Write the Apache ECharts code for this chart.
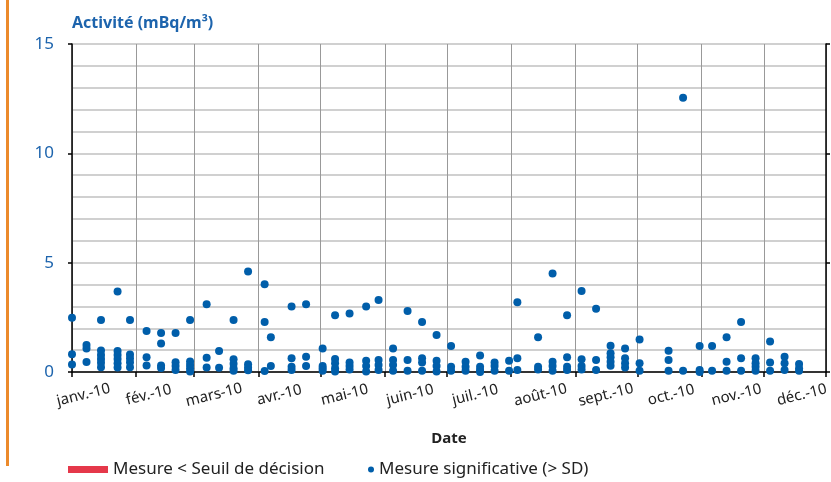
<!DOCTYPE html>
<html>
<head>
<meta charset="UTF-8">
<title>Activité (mBq/m3) 2010</title>
<script src="https://cdn.jsdelivr.net/npm/echarts@6/dist/echarts.min.js"></script>
<style>
  html, body { margin: 0; padding: 0; background: #fff; }
  #chart { width: 831px; height: 482px; }
</style>
</head>
<body>
<div id="chart"></div>
<script>
// dates of the weekly samples
var dates = [
  '2010-01-01', '2010-01-08', '2010-01-15', '2010-01-23', '2010-01-29',
  '2010-02-06', '2010-02-13', '2010-02-20', '2010-02-27', '2010-03-07',
  '2010-03-13', '2010-03-20', '2010-03-27', '2010-04-04', '2010-04-07',
  '2010-04-17', '2010-04-24', '2010-05-02', '2010-05-08', '2010-05-15',
  '2010-05-23', '2010-05-29', '2010-06-05', '2010-06-12', '2010-06-19',
  '2010-06-26', '2010-07-03', '2010-07-10', '2010-07-17', '2010-07-24',
  '2010-07-31', '2010-08-04', '2010-08-14', '2010-08-21', '2010-08-28',
  '2010-09-04', '2010-09-11', '2010-09-18', '2010-09-25', '2010-10-02',
  '2010-10-16', '2010-10-23', '2010-10-31', '2010-11-06', '2010-11-13',
  '2010-11-20', '2010-11-27', '2010-12-04', '2010-12-11', '2010-12-18'
];
// measured values for each date (mBq/m3)
var values = [
  [2.48, 0.81, 0.34], [1.23, 1.08, 0.46], [2.38, 0.98, 0.78, 0.6, 0.42, 0.22],
  [3.68, 0.96, 0.78, 0.59, 0.4, 0.21], [2.38, 0.8, 0.63, 0.45, 0.22],
  [1.88, 0.68, 0.3], [1.78, 1.3, 0.3, 0.18], [1.78, 0.45, 0.27, 0.09],
  [2.38, 0.48, 0.32, 0.17, 0.02], [3.1, 0.65, 0.21],
  [0.96, 0.2], [2.38, 0.58, 0.38, 0.17, 0.06], [4.6, 0.36, 0.21, 0.08],
  [4.01, 2.29, 0.05], [1.59, 0.27],
  [2.99, 0.63, 0.24, 0.09], [3.1, 0.7, 0.27], [1.08, 0.27, 0.17, 0.06],
  [2.6, 0.6, 0.4, 0.17, 0.02], [2.68, 0.43, 0.27, 0.12],
  [2.99, 0.52, 0.27, 0.02], [3.29, 0.55, 0.32, 0.09], [1.08, 0.55, 0.32, 0.06],
  [2.79, 0.55, 0.06], [2.29, 0.63, 0.43, 0.06],
  [1.69, 0.52, 0.27, 0.02], [1.19, 0.24, 0.06], [0.47, 0.24, 0.06],
  [0.75, 0.24, 0.09, 0], [0.43, 0.27, 0.06],
  [0.52, 0.06], [3.19, 0.63, 0.09], [1.59, 0.24, 0.12],
  [4.51, 0.47, 0.27, 0.06], [2.6, 0.67, 0.24, 0.09],
  [3.7, 0.58, 0.27, 0.12], [2.89, 0.55, 0.09], [1.2, 0.86, 0.67, 0.47, 0.29],
  [1.08, 0.63, 0.4, 0.21], [1.49, 0.4, 0.06],
  [0.97, 0.55, 0.06], [12.54, 0.06], [1.19, 0.09, 0],
  [1.19, 0.06], [1.59, 0.47, 0.06],
  [2.29, 0.63, 0.06], [0.63, 0.4, 0.24, 0.06], [1.39, 0.43, 0.06],
  [0.7, 0.4, 0.09], [0.37, 0.17, 0.06]
];
var belowThreshold = []; // no value under the decision threshold
var monthLabels = ['janv.-10', 'fév.-10', 'mars-10', 'avr.-10', 'mai-10', 'juin-10',
  'juil.-10', 'août-10', 'sept.-10', 'oct.-10', 'nov.-10', 'déc.-10'];

var DAY = 86400000;
function ts(s) {
  var p = s.split('-');
  return Date.UTC(+p[0], +p[1] - 1, +p[2]);
}

var points = [];
dates.forEach(function (d, i) {
  values[i].forEach(function (v) { points.push([ts(d), v]); });
});

var FONT = '"Noto Sans", "Open Sans", sans-serif';
var BLUE = '#005eaa';

var chart = echarts.init(document.getElementById('chart'), null, { renderer: 'canvas', useUTC: true });
chart.setOption({
  animation: false,
  useUTC: true,
  backgroundColor: '#fff',
  textStyle: { fontFamily: FONT },
  title: {
    text: 'Activité (mBq/m³)',
    left: 72, top: 15, padding: 0,
    textStyle: { color: '#1d64ad', fontSize: 16, fontWeight: 'bold', fontFamily: FONT }
  },
  grid: [
    { left: 72, right: 5, top: 44, bottom: 110, outerBoundsMode: 'none' },
    // full-width strip only used to place the month labels
    { left: 0, right: 0, top: 44, bottom: 110, outerBoundsMode: 'none', show: false }
  ],
  legend: [{
    data: [{ name: 'Mesure < Seuil de décision', icon: 'rect' }],
    left: 68, top: 461, padding: 0,
    itemWidth: 40, itemHeight: 7,
    textStyle: { fontSize: 17, color: '#222', fontFamily: FONT }
  }, {
    data: [{ name: 'Mesure significative (> SD)', icon: 'circle' }],
    left: 368, top: 461, padding: 0,
    itemWidth: 6, itemHeight: 6,
    textStyle: { fontSize: 17, color: '#222', fontFamily: FONT }
  }],
  xAxis: [{
    type: 'time',
    gridIndex: 0,
    position: 'bottom',
    min: Date.UTC(2010, 0, 1),
    max: Date.UTC(2010, 11, 31),
    splitNumber: 12,
    minInterval: 30 * DAY,
    maxInterval: 31 * DAY,
    name: 'Date',
    nameLocation: 'middle',
    nameGap: 59,
    nameTextStyle: { fontSize: 15, fontWeight: 'bold', color: '#222', fontFamily: FONT },
    axisLine: { show: true, lineStyle: { color: '#000', width: 1.5 } },
    axisTick: { show: true, length: 5, lineStyle: { color: '#000', width: 1.5 } },
    axisLabel: { show: false },
    splitLine: { show: true, lineStyle: { color: '#999', width: 1 } }
  }, {
    // month label slots, slightly offset from the month ticks as in the source
    type: 'value',
    gridIndex: 1,
    position: 'bottom',
    min: -1.279,
    max: 11.447,
    axisLine: { show: false },
    axisTick: { show: false },
    splitLine: { show: false },
    axisLabel: {
      show: true,
      customValues: monthLabels.map(function (_, i) { return i; }),
      formatter: function (v) { return monthLabels[Math.round(v)]; },
      rotate: 14,
      align: 'center',
      verticalAlign: 'middle',
      margin: 23,
      fontSize: 15,
      color: '#222',
      fontFamily: FONT
    }
  }],
  yAxis: [{
    type: 'value',
    gridIndex: 0,
    position: 'left',
    min: 0, max: 15, interval: 5,
    axisLine: { show: true, lineStyle: { color: '#000', width: 1.5 } },
    axisTick: { show: true, length: 4, lineStyle: { color: '#000', width: 1.5 } },
    axisLabel: { color: '#1d64ad', fontSize: 17, margin: 18, fontFamily: FONT },
    splitLine: { show: true, lineStyle: { color: '#d0d0d0', width: 2 } },
    minorTick: { show: false, splitNumber: 5 },
    minorSplitLine: { show: true, lineStyle: { color: '#d0d0d0', width: 2 } }
  }, {
    type: 'value',
    gridIndex: 0,
    position: 'right',
    min: 0, max: 15, interval: 5,
    axisLine: { show: true, lineStyle: { color: '#000', width: 1.5 } },
    axisTick: { show: true, length: 4, lineStyle: { color: '#000', width: 1.5 } },
    axisLabel: { show: false },
    splitLine: { show: false }
  }, {
    type: 'value',
    gridIndex: 1,
    show: false,
    min: 0, max: 1
  }],
  graphic: [{
    type: 'rect',
    shape: { x: 6, y: 0, width: 3, height: 466 },
    style: { fill: '#ec8a2b' },
    silent: true
  }],
  series: [{
    name: 'Mesure < Seuil de décision',
    type: 'scatter',
    xAxisIndex: 0, yAxisIndex: 0,
    itemStyle: { color: '#e5384a', opacity: 1 },
    data: belowThreshold
  }, {
    name: 'Mesure significative (> SD)',
    type: 'scatter',
    xAxisIndex: 0, yAxisIndex: 0,
    symbol: 'circle',
    symbolSize: 8,
    itemStyle: { color: BLUE, opacity: 1 },
    data: points
  }]
});
</script>
</body>
</html>
